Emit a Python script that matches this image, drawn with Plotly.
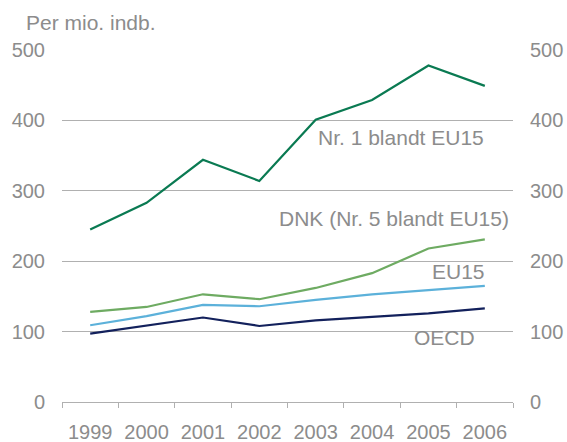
import plotly.graph_objects as go

years = ["1999", "2000", "2001", "2002", "2003", "2004", "2005", "2006"]
nr1 = [245, 283, 344, 314, 401, 429, 478, 449]
dnk = [128, 135, 153, 146, 162, 183, 218, 231]
eu15 = [109, 122, 138, 136, 145, 153, 159, 165]
oecd = [97, 108, 120, 108, 116, 121, 126, 133]

ytick_vals = [0, 100, 200, 300, 400, 500]

FONT = "Liberation Sans, Arial, sans-serif"
GRAY = "#8c8c8c"
GRID = "#b0b0b0"

series = [
    ("Nr. 1 blandt EU15", nr1, "#0a7a52"),
    ("DNK (Nr. 5 blandt EU15)", dnk, "#6eab62"),
    ("EU15", eu15, "#5cb1da"),
    ("OECD", oecd, "#13215c"),
]

fig = go.Figure()
for name, vals, col in series:
    fig.add_trace(go.Scatter(x=years, y=vals, mode="lines", name=name,
                             line=dict(color=col, width=2.2), hoverinfo="x+y"))
# invisible trace to activate right axis
fig.add_trace(go.Scatter(x=years, y=oecd, mode="lines", yaxis="y2",
                         line=dict(color="rgba(0,0,0,0)"), hoverinfo="skip",
                         showlegend=False))

labels = [
    ("Nr. 1 blandt EU15", 7.02, 376),
    ("DNK (Nr. 5 blandt EU15)", 7.46, 260),
    ("EU15", 7.04, 185),
    ("OECD", 6.87, 91),
]
annotations = [dict(x=x, y=y, xref="x", yref="y", text=t, showarrow=False,
                    xanchor="right", yanchor="middle",
                    font=dict(family=FONT, size=21, color=GRAY))
               for t, x, y in labels]
annotations.append(dict(x=-0.085, y=1.077, xref="paper", yref="paper",
                        text="Per mio. indb.", showarrow=False,
                        xanchor="left", yanchor="middle",
                        font=dict(family=FONT, size=21, color=GRAY)))

yax = dict(range=[0, 500], tickvals=ytick_vals, showgrid=True, gridcolor=GRID,
           gridwidth=1, zeroline=False, showline=False, ticks="",
           ticklabelstandoff=16, automargin=False,
           tickfont=dict(family=FONT, size=20, color=GRAY), fixedrange=True)

fig.update_layout(
    width=567, height=442,
    margin=dict(l=62, r=54, t=50, b=40),
    paper_bgcolor="white", plot_bgcolor="white",
    showlegend=False,
    font=dict(family=FONT, color=GRAY),
    xaxis=dict(type="category", tickson="boundaries", ticks="outside",
               ticklen=5, tickcolor=GRID, showline=True, linecolor=GRID,
               linewidth=1, showgrid=False, range=[-0.5, 7.5], automargin=False,
               ticklabelstandoff=12, fixedrange=True,
               tickfont=dict(family=FONT, size=20, color=GRAY)),
    yaxis=yax,
    yaxis2=dict(yax, overlaying="y", side="right", showgrid=False),
    annotations=annotations,
)

fig.write_html("out.html", config={"displayModeBar": False},
               post_script="document.body.style.margin='0';document.body.style.overflow='hidden';")
